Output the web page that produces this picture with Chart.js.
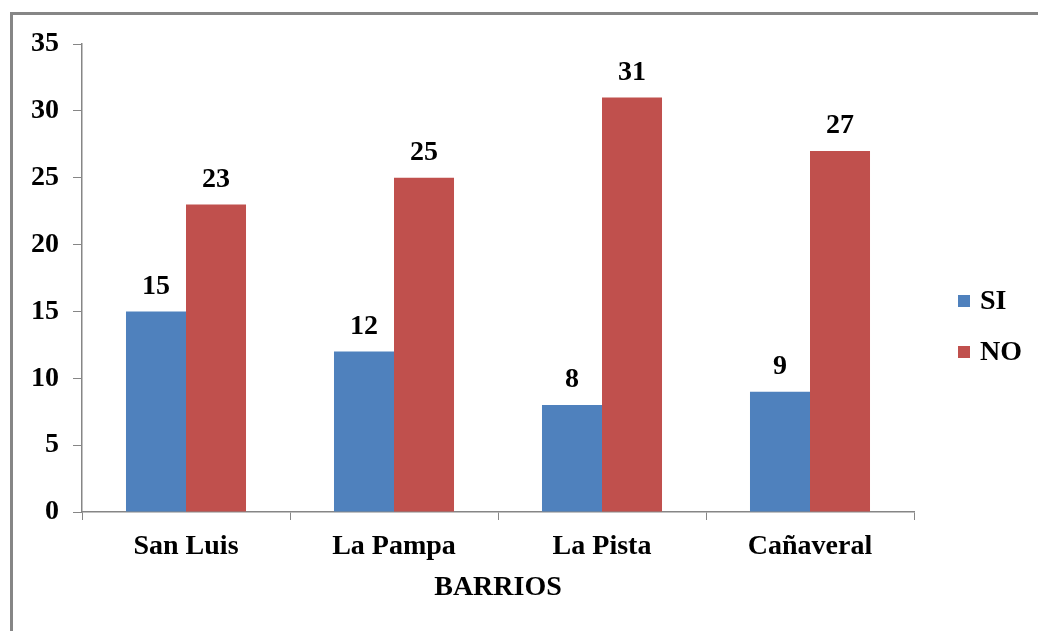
<!DOCTYPE html>
<html>
<head>
<meta charset="utf-8">
<script src="https://cdn.jsdelivr.net/npm/chart.js@4/dist/chart.umd.min.js"></script>
<style>
  html, body { margin: 0; padding: 0; background: #fff; overflow: hidden; }
  #wrap { position: relative; width: 1038px; height: 631px; }
  #frame { position: absolute; left: 10px; top: 12px; width: 1100px; height: 700px;
           border-left: 3px solid #868686; border-top: 3px solid #868686; }
  #c { position: absolute; left: 0; top: 0; }
  .leg { position: absolute; left: 958px; font: bold 28px "Liberation Serif", "Times New Roman", serif; color: #000; }
  .leg span.box { position: absolute; left: 0; width: 12px; height: 12px; }
  .leg span.txt { position: absolute; left: 22px; white-space: nowrap; }
</style>
</head>
<body>
<div id="wrap">
  <div id="frame"></div>
  <canvas id="c" width="1038" height="631"></canvas>
  <div id="legend"></div>
</div>
<script>
/* Bar chart: SI / NO por barrio */

const barrios  = ['San Luis', 'La Pampa', 'La Pista', 'Cañaveral'];
const siVals   = [15, 12, 8, 9];
const noVals   = [23, 25, 31, 27];
const yTicks   = [0, 5, 10, 15, 20, 25, 30, 35];

const BLUE = '#4F81BD';
const RED  = '#C0504D';
const AXIS = '#868686';
const FONT = '"Liberation Serif", "Times New Roman", serif';

// value labels above each bar
const valueLabels = {
  id: 'valueLabels',
  afterDatasetsDraw(chart) {
    const ctx = chart.ctx;
    ctx.save();
    ctx.font = `bold 28px ${FONT}`;
    ctx.fillStyle = '#000';
    ctx.textAlign = 'center';
    ctx.textBaseline = 'bottom';
    chart.data.datasets.forEach((ds, i) => {
      chart.getDatasetMeta(i).data.forEach((bar, j) => {
        ctx.fillText(ds.data[j], bar.x, bar.y - 11);
      });
    });
    ctx.restore();
  }
};

new Chart(document.getElementById('c'), {
  type: 'bar',
  data: {
    labels: barrios,
    datasets: [
      { label: 'SI', data: siVals, backgroundColor: BLUE },
      { label: 'NO', data: noVals, backgroundColor: RED }
    ]
  },
  options: {
    responsive: false,
    animation: false,
    layout: { padding: { top: 44, right: 124, left: 0, bottom: 0 } },
    plugins: { legend: { display: false }, tooltip: { enabled: false } },
    datasets: { bar: { categoryPercentage: 0.577, barPercentage: 1.0 } },
    scales: {
      x: {
        grid: { display: true, drawOnChartArea: false, drawTicks: true, tickLength: 8, color: AXIS, offset: true },
        border: { color: AXIS, width: 1.5 },
        ticks: { color: '#000', font: { family: FONT, size: 28, weight: 'bold' }, padding: 10 },
        title: { display: true, text: 'BARRIOS', color: '#000', font: { family: FONT, size: 28, weight: 'bold' }, padding: { top: 4, bottom: 26 } },
        afterFit(scale) { scale.height = 119; }
      },
      y: {
        min: 0, max: 35,
        afterBuildTicks(scale) { scale.ticks = yTicks.map(v => ({ value: v })); },
        grid: { display: true, drawOnChartArea: false, drawTicks: true, tickLength: 9, color: AXIS },
        border: { color: AXIS, width: 1.5 },
        ticks: { color: '#000', font: { family: FONT, size: 28, weight: 'bold' }, padding: 14 },
        afterFit(scale) { scale.width = 82; }
      }
    }
  },
  plugins: [valueLabels]
});

// legend on the right
const legendItems = [
  { label: 'SI', color: BLUE, top: 284 },
  { label: 'NO', color: RED,  top: 335 }
];
document.getElementById('legend').innerHTML = legendItems.map(it =>
  `<div class="leg" style="top:${it.top}px">
     <span class="box" style="background:${it.color};top:11px"></span>
     <span class="txt">${it.label}</span>
   </div>`).join('');
</script>
</body>
</html>
